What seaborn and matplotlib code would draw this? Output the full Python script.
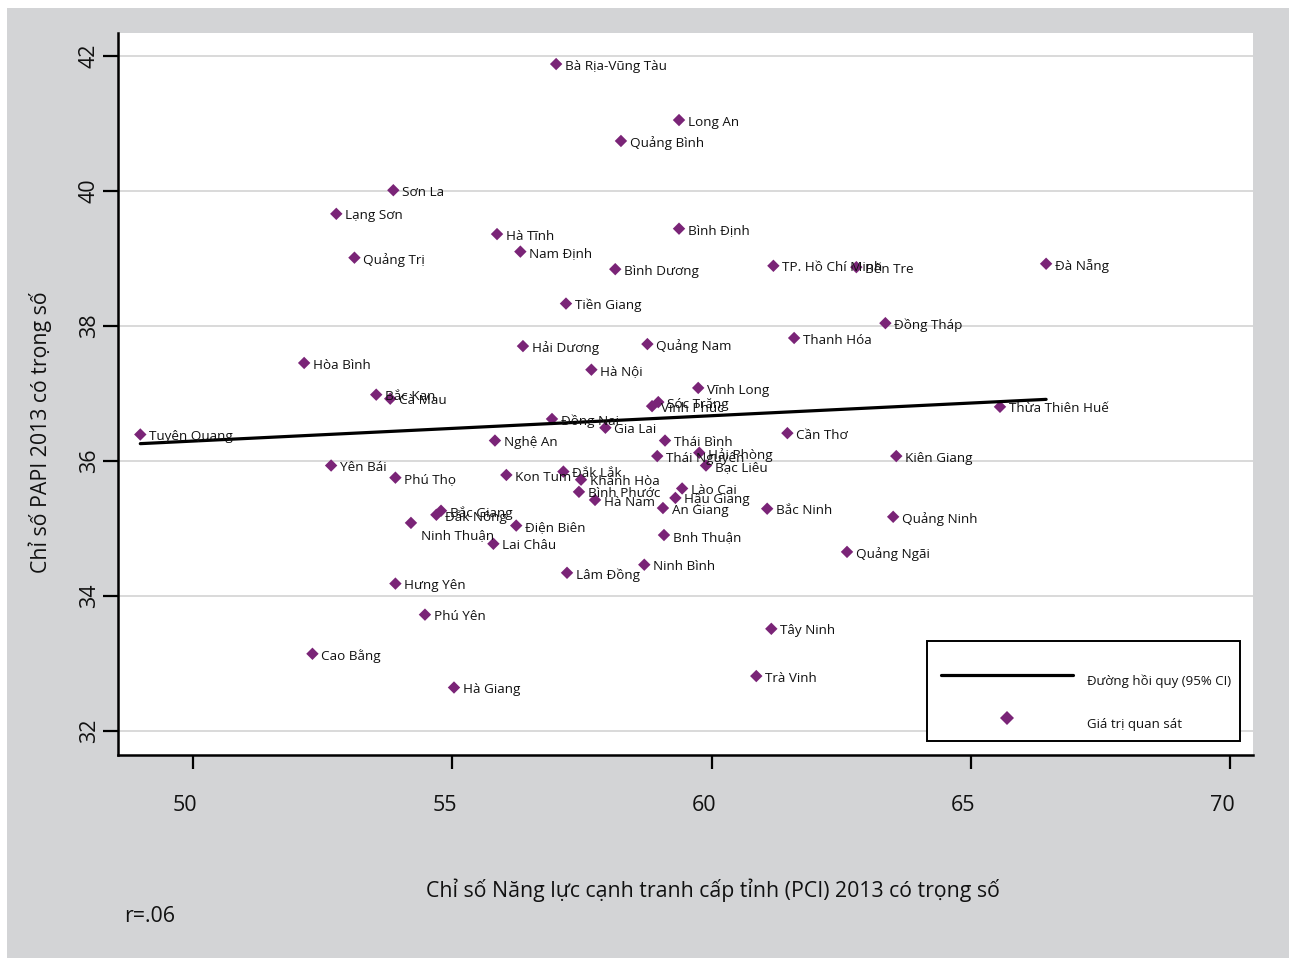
import matplotlib
matplotlib.use("Agg")
import matplotlib.pyplot as plt
import matplotlib.transforms as mtransforms
from matplotlib.lines import Line2D
from matplotlib.patches import Rectangle
import seaborn as sns
import pandas as pd

provinces = [
    "Bà Rịa-Vũng Tàu", "Long An", "Quảng Bình", "Sơn La", "Lạng Sơn", "Hà Tĩnh",
    "Bình Định", "Nam Định", "Quảng Trị", "Bình Dương", "TP. Hồ Chí Minh", "Bến Tre",
    "Đà Nẵng", "Tiền Giang", "Đồng Tháp", "Thanh Hóa", "Hải Dương", "Quảng Nam",
    "Hòa Bình", "Hà Nội", "Vĩnh Long", "Bắc Kan", "Cà Mau", "Sóc Trăng", "Vĩnh Phúc",
    "Thừa Thiên Huế", "Tuyên Quang", "Đồng Nai", "Gia Lai", "Cần Thơ", "Nghệ An",
    "Thái Bình", "Hải Phòng", "Kiên Giang", "Thái Nguyên", "Bạc Liêu", "Yên Bái",
    "Phú Thọ", "Kon Tum", "Đắk Lắk", "Khánh Hòa", "Lào Cai", "Bình Phước", "Hậu Giang",
    "Hà Nam", "An Giang", "Bắc Ninh", "Bắc Giang", "Đắk Nông", "Ninh Thuận",
    "Quảng Ninh", "Điện Biên", "Lai Châu", "Bnh Thuận", "Quảng Ngãi", "Ninh Bình",
    "Lâm Đồng", "Hưng Yên", "Phú Yên", "Tây Ninh", "Cao Bằng", "Trà Vinh", "Hà Giang",
]
pci_2013 = [
    57.00, 59.37, 58.25, 53.86, 52.76, 55.86,
    59.37, 56.31, 53.11, 58.14, 61.19, 62.79,
    66.45, 57.19, 63.35, 61.59, 56.36, 58.76,
    52.14, 57.68, 59.74, 53.53, 53.80, 58.97, 58.85,
    65.56, 48.98, 56.92, 57.95, 61.46, 55.82,
    59.10, 59.76, 63.56, 58.95, 59.89, 52.66,
    53.90, 56.04, 57.14, 57.48, 59.43, 57.44, 59.30,
    57.75, 59.06, 61.07, 54.78, 54.69, 54.20,
    63.50, 56.23, 55.79, 59.08, 62.61, 58.70,
    57.21, 53.90, 54.47, 61.15, 52.30, 60.86, 55.03,
]
papi_2013 = [
    41.88, 41.05, 40.74, 40.01, 39.66, 39.36,
    39.44, 39.10, 39.01, 38.84, 38.89, 38.87,
    38.92, 38.33, 38.04, 37.82, 37.70, 37.73,
    37.45, 37.35, 37.08, 36.98, 36.92, 36.87, 36.81,
    36.80, 36.39, 36.62, 36.49, 36.41, 36.30,
    36.30, 36.12, 36.07, 36.07, 35.93, 35.93,
    35.75, 35.79, 35.84, 35.72, 35.59, 35.54, 35.45,
    35.42, 35.30, 35.29, 35.26, 35.20, 35.08,
    35.17, 35.04, 34.77, 34.90, 34.65, 34.46,
    34.34, 34.18, 33.72, 33.51, 33.14, 32.81, 32.64,
]
x_ticks = [50, 55, 60, 65, 70]
y_ticks = [32, 34, 36, 38, 40, 42]
x_title = "Chỉ số Năng lực cạnh tranh cấp tỉnh (PCI) 2013 có trọng số"
y_title = "Chỉ số PAPI 2013 có trọng số"
legend_labels = ["Đường hồi quy (95% CI)", "Giá trị quan sát"]
note = "r=.06"

df = pd.DataFrame({"province": provinces, "pci": pci_2013, "papi": papi_2013})

sns.set_theme(style="white")
plt.rcParams["font.family"] = ["Open Sans", "DejaVu Sans"]

PURPLE = "#7a2477"
PANEL = "#d3d4d6"
INK = "#111111"
W, H = 1291, 958
AX_L, AX_R, AX_T, AX_B = 118, 1253, 33, 755


def ax_xy(px, py):
    """Pixel position in the figure -> axes fraction."""
    return (px - AX_L) / (AX_R - AX_L), (AX_B - py) / (AX_B - AX_T)


fig = plt.figure(figsize=(W / 100, H / 100), dpi=100, facecolor="white")
fig.patches.append(Rectangle((7 / W, 0), 1 - 9 / W, 1 - 8 / H,
                             transform=fig.transFigure, facecolor=PANEL,
                             edgecolor="none", zorder=-10))

ax = fig.add_axes([AX_L / W, 1 - AX_B / H, (AX_R - AX_L) / W, (AX_B - AX_T) / H])
ax.set_facecolor("white")

sns.regplot(data=df, x="pci", y="papi", ax=ax, ci=None, marker="D",
            scatter_kws=dict(s=40, color=PURPLE, alpha=1, edgecolors="none", zorder=3),
            line_kws=dict(color="black", lw=2.3, zorder=4))

# province labels beside their markers
offsets = {"Ninh Thuận": (7, -9)}
for name, px, py in zip(df["province"], df["pci"], df["papi"]):
    dx, dy = offsets.get(name, (6.5, -1.5))
    ax.annotate(name, (px, py), xytext=(dx, dy), textcoords="offset points",
                ha="left", va="center", fontsize=9.7, color=INK, zorder=5)

ax.set_xlim(48.55, 70.44)
ax.set_ylim(31.64, 42.34)
ax.set_xticks(x_ticks)
ax.set_yticks(y_ticks)
ax.set_xlabel("")
ax.set_ylabel("")
ax.grid(axis="y", color="#d9d9d9", lw=1.4)
ax.grid(axis="x", visible=False)
for side in ("top", "right"):
    ax.spines[side].set_visible(False)
for side in ("left", "bottom"):
    ax.spines[side].set_color("black")
    ax.spines[side].set_linewidth(1.8)

ax.tick_params(axis="x", direction="out", length=10, width=1.6, color="black",
               pad=19, labelsize=15.5, labelcolor=INK, bottom=True)
ax.tick_params(axis="y", direction="out", length=11, width=1.6, color="black",
               pad=2, labelsize=15.5, labelcolor=INK, left=True)
for lab in ax.get_yticklabels():
    lab.set_rotation(90)
    lab.set_va("center")
shift = mtransforms.ScaledTranslation(-8 / 100, 0, fig.dpi_scale_trans)
for lab in ax.get_xticklabels():
    lab.set_transform(lab.get_transform() + shift)

fig.text(713 / W, 1 - 890 / H, x_title, ha="center", va="center",
         fontsize=15.3, color=INK)
fig.text(40 / W, 1 - 432 / H, y_title, ha="center", va="center",
         rotation=90, fontsize=15.3, color=INK)
fig.text(124 / W, 1 - 917 / H, note, ha="left", va="center",
         fontsize=15.3, color=INK)

# legend: entries anchored inside a plain black box
handles = [
    Line2D([], [], color="black", lw=2.3),
    Line2D([], [], color=PURPLE, marker="D", ls="none", markersize=6.8,
           markeredgewidth=0),
]
leg = ax.legend(handles, legend_labels, loc="upper left",
                bbox_to_anchor=ax_xy(941, 669), bbox_transform=ax.transAxes,
                fontsize=9.5, frameon=False, handlelength=10.0,
                handletextpad=1.05, labelspacing=2.25, borderpad=0,
                borderaxespad=0)
leg.set_zorder(10)
drop = mtransforms.ScaledTranslation(0, -6 / 100, fig.dpi_scale_trans)
for t in leg.get_texts():
    t.set_color(INK)
    t.set_transform(t.get_transform() + drop)

bx0, by0 = ax_xy(927, 741)
bx1, by1 = ax_xy(1240, 641)
ax.add_patch(Rectangle((bx0, by0), bx1 - bx0, by1 - by0, transform=ax.transAxes,
                       facecolor="white", edgecolor="black", lw=1.4, zorder=9))

fig.savefig("out.png", dpi=100, facecolor=fig.get_facecolor())
